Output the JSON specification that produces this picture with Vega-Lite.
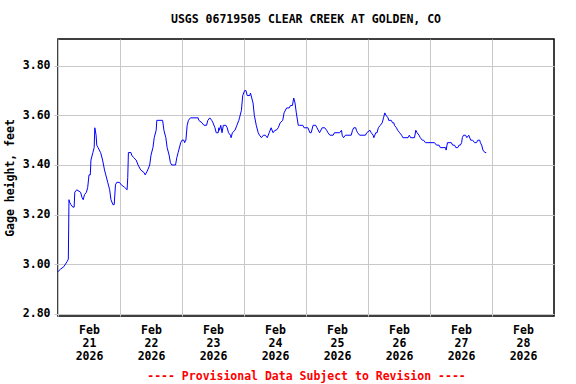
{
  "$schema": "https://vega.github.io/schema/vega-lite/v6.json",
  "autosize": "none",
  "width": 496,
  "height": 277,
  "padding": {"left": 58, "top": 39, "right": 22, "bottom": 68},
  "background": "white",
  "config": {
    "font": "DejaVu Sans Mono",
    "view": {"stroke": "black", "strokeWidth": 1.5},
    "axis": {"gridColor": "#C8C8C8", "gridWidth": 1, "gridOpacity": 1, "labelFont": "DejaVu Sans Mono", "labelFontWeight": "bold", "labelFontSize": 11.5, "labelColor": "black", "titleFont": "DejaVu Sans Mono", "titleFontWeight": "bold", "titleFontSize": 11.5, "titleColor": "black", "domain": false}
  },
  "title": {"text": "USGS 06719505 CLEAR CREEK AT GOLDEN, CO", "font": "DejaVu Sans Mono", "fontWeight": "bold", "fontSize": 11.5, "color": "black", "anchor": "middle", "offset": 14},
  "data": {
    "values": [
      {"t": "2026-02-21T00:00", "v": 2.97},
      {"t": "2026-02-21T01:00", "v": 2.98},
      {"t": "2026-02-21T02:15", "v": 2.99},
      {"t": "2026-02-21T03:30", "v": 3.01},
      {"t": "2026-02-21T04:00", "v": 3.02},
      {"t": "2026-02-21T04:15", "v": 3.26},
      {"t": "2026-02-21T04:30", "v": 3.25},
      {"t": "2026-02-21T05:00", "v": 3.24},
      {"t": "2026-02-21T05:45", "v": 3.23},
      {"t": "2026-02-21T06:15", "v": 3.23},
      {"t": "2026-02-21T06:30", "v": 3.29},
      {"t": "2026-02-21T07:15", "v": 3.30},
      {"t": "2026-02-21T08:45", "v": 3.29},
      {"t": "2026-02-21T09:15", "v": 3.27},
      {"t": "2026-02-21T09:45", "v": 3.26},
      {"t": "2026-02-21T10:15", "v": 3.28},
      {"t": "2026-02-21T11:00", "v": 3.29},
      {"t": "2026-02-21T11:30", "v": 3.31},
      {"t": "2026-02-21T12:00", "v": 3.36},
      {"t": "2026-02-21T12:30", "v": 3.36},
      {"t": "2026-02-21T12:45", "v": 3.42},
      {"t": "2026-02-21T13:30", "v": 3.45},
      {"t": "2026-02-21T14:00", "v": 3.47},
      {"t": "2026-02-21T14:15", "v": 3.55},
      {"t": "2026-02-21T14:45", "v": 3.52},
      {"t": "2026-02-21T15:00", "v": 3.48},
      {"t": "2026-02-21T15:30", "v": 3.47},
      {"t": "2026-02-21T16:30", "v": 3.45},
      {"t": "2026-02-21T17:15", "v": 3.42},
      {"t": "2026-02-21T18:00", "v": 3.38},
      {"t": "2026-02-21T18:30", "v": 3.36},
      {"t": "2026-02-21T19:15", "v": 3.33},
      {"t": "2026-02-21T20:00", "v": 3.30},
      {"t": "2026-02-21T20:30", "v": 3.26},
      {"t": "2026-02-21T21:15", "v": 3.24},
      {"t": "2026-02-21T21:45", "v": 3.24},
      {"t": "2026-02-21T22:15", "v": 3.32},
      {"t": "2026-02-21T22:45", "v": 3.33},
      {"t": "2026-02-21T23:45", "v": 3.33},
      {"t": "2026-02-22T00:30", "v": 3.32},
      {"t": "2026-02-22T01:45", "v": 3.31},
      {"t": "2026-02-22T02:45", "v": 3.30},
      {"t": "2026-02-22T03:00", "v": 3.35},
      {"t": "2026-02-22T03:15", "v": 3.45},
      {"t": "2026-02-22T04:15", "v": 3.45},
      {"t": "2026-02-22T04:30", "v": 3.44},
      {"t": "2026-02-22T05:15", "v": 3.43},
      {"t": "2026-02-22T06:15", "v": 3.42},
      {"t": "2026-02-22T07:00", "v": 3.40},
      {"t": "2026-02-22T08:00", "v": 3.38},
      {"t": "2026-02-22T09:15", "v": 3.37},
      {"t": "2026-02-22T09:45", "v": 3.36},
      {"t": "2026-02-22T10:45", "v": 3.38},
      {"t": "2026-02-22T11:30", "v": 3.40},
      {"t": "2026-02-22T12:00", "v": 3.44},
      {"t": "2026-02-22T12:45", "v": 3.47},
      {"t": "2026-02-22T13:15", "v": 3.51},
      {"t": "2026-02-22T14:00", "v": 3.54},
      {"t": "2026-02-22T14:15", "v": 3.58},
      {"t": "2026-02-22T16:30", "v": 3.58},
      {"t": "2026-02-22T17:00", "v": 3.54},
      {"t": "2026-02-22T17:45", "v": 3.51},
      {"t": "2026-02-22T18:15", "v": 3.47},
      {"t": "2026-02-22T19:00", "v": 3.44},
      {"t": "2026-02-22T19:30", "v": 3.41},
      {"t": "2026-02-22T20:00", "v": 3.40},
      {"t": "2026-02-22T21:30", "v": 3.40},
      {"t": "2026-02-22T22:00", "v": 3.43},
      {"t": "2026-02-22T22:30", "v": 3.45},
      {"t": "2026-02-22T23:30", "v": 3.49},
      {"t": "2026-02-23T00:00", "v": 3.50},
      {"t": "2026-02-23T00:45", "v": 3.50},
      {"t": "2026-02-23T01:00", "v": 3.49},
      {"t": "2026-02-23T01:30", "v": 3.50},
      {"t": "2026-02-23T02:00", "v": 3.56},
      {"t": "2026-02-23T02:30", "v": 3.58},
      {"t": "2026-02-23T03:15", "v": 3.59},
      {"t": "2026-02-23T06:15", "v": 3.59},
      {"t": "2026-02-23T06:30", "v": 3.58},
      {"t": "2026-02-23T07:45", "v": 3.57},
      {"t": "2026-02-23T08:30", "v": 3.56},
      {"t": "2026-02-23T09:30", "v": 3.56},
      {"t": "2026-02-23T10:00", "v": 3.58},
      {"t": "2026-02-23T10:45", "v": 3.59},
      {"t": "2026-02-23T11:30", "v": 3.58},
      {"t": "2026-02-23T12:00", "v": 3.57},
      {"t": "2026-02-23T12:45", "v": 3.55},
      {"t": "2026-02-23T13:15", "v": 3.53},
      {"t": "2026-02-23T14:00", "v": 3.53},
      {"t": "2026-02-23T14:15", "v": 3.55},
      {"t": "2026-02-23T14:30", "v": 3.54},
      {"t": "2026-02-23T15:00", "v": 3.56},
      {"t": "2026-02-23T15:30", "v": 3.53},
      {"t": "2026-02-23T16:00", "v": 3.56},
      {"t": "2026-02-23T17:00", "v": 3.56},
      {"t": "2026-02-23T17:30", "v": 3.55},
      {"t": "2026-02-23T18:00", "v": 3.53},
      {"t": "2026-02-23T18:45", "v": 3.52},
      {"t": "2026-02-23T19:00", "v": 3.51},
      {"t": "2026-02-23T19:30", "v": 3.53},
      {"t": "2026-02-23T20:30", "v": 3.54},
      {"t": "2026-02-23T21:15", "v": 3.56},
      {"t": "2026-02-23T22:00", "v": 3.58},
      {"t": "2026-02-23T22:15", "v": 3.59},
      {"t": "2026-02-23T23:00", "v": 3.62},
      {"t": "2026-02-23T23:30", "v": 3.68},
      {"t": "2026-02-24T00:15", "v": 3.70},
      {"t": "2026-02-24T00:45", "v": 3.70},
      {"t": "2026-02-24T01:15", "v": 3.68},
      {"t": "2026-02-24T02:15", "v": 3.68},
      {"t": "2026-02-24T02:30", "v": 3.69},
      {"t": "2026-02-24T03:00", "v": 3.67},
      {"t": "2026-02-24T03:30", "v": 3.65},
      {"t": "2026-02-24T04:00", "v": 3.60},
      {"t": "2026-02-24T04:45", "v": 3.56},
      {"t": "2026-02-24T05:30", "v": 3.53},
      {"t": "2026-02-24T06:00", "v": 3.52},
      {"t": "2026-02-24T06:45", "v": 3.51},
      {"t": "2026-02-24T07:30", "v": 3.52},
      {"t": "2026-02-24T08:15", "v": 3.52},
      {"t": "2026-02-24T09:00", "v": 3.51},
      {"t": "2026-02-24T09:45", "v": 3.53},
      {"t": "2026-02-24T10:30", "v": 3.55},
      {"t": "2026-02-24T11:15", "v": 3.53},
      {"t": "2026-02-24T12:00", "v": 3.54},
      {"t": "2026-02-24T12:30", "v": 3.54},
      {"t": "2026-02-24T13:15", "v": 3.55},
      {"t": "2026-02-24T14:00", "v": 3.57},
      {"t": "2026-02-24T15:00", "v": 3.58},
      {"t": "2026-02-24T15:30", "v": 3.61},
      {"t": "2026-02-24T16:30", "v": 3.63},
      {"t": "2026-02-24T17:30", "v": 3.63},
      {"t": "2026-02-24T18:00", "v": 3.64},
      {"t": "2026-02-24T18:45", "v": 3.64},
      {"t": "2026-02-24T19:15", "v": 3.67},
      {"t": "2026-02-24T19:45", "v": 3.65},
      {"t": "2026-02-24T20:15", "v": 3.61},
      {"t": "2026-02-24T21:00", "v": 3.56},
      {"t": "2026-02-24T21:30", "v": 3.56},
      {"t": "2026-02-24T22:45", "v": 3.56},
      {"t": "2026-02-24T23:15", "v": 3.55},
      {"t": "2026-02-25T00:45", "v": 3.55},
      {"t": "2026-02-25T01:30", "v": 3.53},
      {"t": "2026-02-25T02:00", "v": 3.53},
      {"t": "2026-02-25T02:45", "v": 3.56},
      {"t": "2026-02-25T03:45", "v": 3.56},
      {"t": "2026-02-25T04:15", "v": 3.55},
      {"t": "2026-02-25T05:15", "v": 3.53},
      {"t": "2026-02-25T06:15", "v": 3.55},
      {"t": "2026-02-25T07:15", "v": 3.55},
      {"t": "2026-02-25T08:00", "v": 3.54},
      {"t": "2026-02-25T08:30", "v": 3.53},
      {"t": "2026-02-25T09:15", "v": 3.52},
      {"t": "2026-02-25T10:30", "v": 3.52},
      {"t": "2026-02-25T11:00", "v": 3.53},
      {"t": "2026-02-25T13:00", "v": 3.53},
      {"t": "2026-02-25T13:45", "v": 3.54},
      {"t": "2026-02-25T14:00", "v": 3.52},
      {"t": "2026-02-25T14:30", "v": 3.51},
      {"t": "2026-02-25T15:15", "v": 3.52},
      {"t": "2026-02-25T17:30", "v": 3.52},
      {"t": "2026-02-25T18:00", "v": 3.54},
      {"t": "2026-02-25T18:30", "v": 3.55},
      {"t": "2026-02-25T19:15", "v": 3.55},
      {"t": "2026-02-25T19:30", "v": 3.54},
      {"t": "2026-02-25T20:00", "v": 3.53},
      {"t": "2026-02-25T20:45", "v": 3.52},
      {"t": "2026-02-25T23:00", "v": 3.52},
      {"t": "2026-02-25T23:30", "v": 3.53},
      {"t": "2026-02-26T00:45", "v": 3.54},
      {"t": "2026-02-26T01:15", "v": 3.53},
      {"t": "2026-02-26T02:00", "v": 3.52},
      {"t": "2026-02-26T02:15", "v": 3.51},
      {"t": "2026-02-26T03:00", "v": 3.53},
      {"t": "2026-02-26T03:30", "v": 3.53},
      {"t": "2026-02-26T04:00", "v": 3.55},
      {"t": "2026-02-26T04:45", "v": 3.56},
      {"t": "2026-02-26T05:30", "v": 3.57},
      {"t": "2026-02-26T06:00", "v": 3.59},
      {"t": "2026-02-26T06:30", "v": 3.61},
      {"t": "2026-02-26T07:00", "v": 3.60},
      {"t": "2026-02-26T07:45", "v": 3.59},
      {"t": "2026-02-26T08:00", "v": 3.58},
      {"t": "2026-02-26T09:00", "v": 3.58},
      {"t": "2026-02-26T09:30", "v": 3.57},
      {"t": "2026-02-26T10:00", "v": 3.57},
      {"t": "2026-02-26T10:15", "v": 3.56},
      {"t": "2026-02-26T11:00", "v": 3.55},
      {"t": "2026-02-26T11:30", "v": 3.54},
      {"t": "2026-02-26T12:15", "v": 3.53},
      {"t": "2026-02-26T13:00", "v": 3.52},
      {"t": "2026-02-26T13:30", "v": 3.51},
      {"t": "2026-02-26T15:30", "v": 3.51},
      {"t": "2026-02-26T16:00", "v": 3.52},
      {"t": "2026-02-26T16:30", "v": 3.51},
      {"t": "2026-02-26T18:00", "v": 3.51},
      {"t": "2026-02-26T18:30", "v": 3.54},
      {"t": "2026-02-26T19:00", "v": 3.53},
      {"t": "2026-02-26T19:45", "v": 3.52},
      {"t": "2026-02-26T20:15", "v": 3.51},
      {"t": "2026-02-26T21:00", "v": 3.50},
      {"t": "2026-02-26T21:30", "v": 3.50},
      {"t": "2026-02-26T22:15", "v": 3.49},
      {"t": "2026-02-27T01:45", "v": 3.49},
      {"t": "2026-02-27T02:30", "v": 3.48},
      {"t": "2026-02-27T03:30", "v": 3.48},
      {"t": "2026-02-27T04:00", "v": 3.47},
      {"t": "2026-02-27T06:00", "v": 3.47},
      {"t": "2026-02-27T06:15", "v": 3.46},
      {"t": "2026-02-27T06:45", "v": 3.49},
      {"t": "2026-02-27T08:15", "v": 3.49},
      {"t": "2026-02-27T08:45", "v": 3.48},
      {"t": "2026-02-27T09:30", "v": 3.48},
      {"t": "2026-02-27T10:00", "v": 3.47},
      {"t": "2026-02-27T10:45", "v": 3.47},
      {"t": "2026-02-27T11:15", "v": 3.48},
      {"t": "2026-02-27T11:45", "v": 3.48},
      {"t": "2026-02-27T12:15", "v": 3.49},
      {"t": "2026-02-27T12:30", "v": 3.51},
      {"t": "2026-02-27T13:00", "v": 3.52},
      {"t": "2026-02-27T13:45", "v": 3.52},
      {"t": "2026-02-27T14:15", "v": 3.51},
      {"t": "2026-02-27T15:00", "v": 3.52},
      {"t": "2026-02-27T15:45", "v": 3.50},
      {"t": "2026-02-27T16:30", "v": 3.50},
      {"t": "2026-02-27T17:15", "v": 3.49},
      {"t": "2026-02-27T18:00", "v": 3.49},
      {"t": "2026-02-27T18:30", "v": 3.50},
      {"t": "2026-02-27T19:15", "v": 3.50},
      {"t": "2026-02-27T19:30", "v": 3.49},
      {"t": "2026-02-27T20:00", "v": 3.48},
      {"t": "2026-02-27T20:30", "v": 3.46},
      {"t": "2026-02-27T21:15", "v": 3.45},
      {"t": "2026-02-27T21:45", "v": 3.45}
    ]
  },
  "mark": {"type": "line", "color": "#0000FF", "strokeWidth": 1, "clip": true},
  "encoding": {
    "x": {
      "field": "t",
      "type": "temporal",
      "scale": {"domain": [{"year": 2026, "month": 2, "date": 21}, {"year": 2026, "month": 3, "date": 1}]},
      "axis": {
        "values": [
          {"year": 2026, "month": 2, "date": 21},
          {"year": 2026, "month": 2, "date": 22},
          {"year": 2026, "month": 2, "date": 23},
          {"year": 2026, "month": 2, "date": 24},
          {"year": 2026, "month": 2, "date": 25},
          {"year": 2026, "month": 2, "date": 26},
          {"year": 2026, "month": 2, "date": 27},
          {"year": 2026, "month": 2, "date": 28}
        ],
        "labelExpr": "[timeFormat(datum.value, '%b'), timeFormat(datum.value, '%d'), timeFormat(datum.value, '%Y')]",
        "labelOffset": 31,
        "labelLineHeight": 13,
        "labelPadding": 8,
        "labelAlign": "center",
        "labelFlush": false,
        "labelOverlap": false,
        "ticks": false,
        "grid": true,
        "title": "---- Provisional Data Subject to Revision ----",
        "titleColor": "#FF0000",
        "titlePadding": 9
      }
    },
    "y": {
      "field": "v",
      "type": "quantitative",
      "scale": {"domain": [2.791, 3.908], "nice": false, "zero": false},
      "axis": {
        "values": [2.8, 3.0, 3.2, 3.4, 3.6, 3.8],
        "format": ".2f",
        "grid": true,
        "ticks": true,
        "tickSize": 4,
        "tickColor": "#C8C8C8",
        "labelPadding": 4,
        "title": "Gage height, feet",
        "titlePadding": 7
      }
    }
  }
}
